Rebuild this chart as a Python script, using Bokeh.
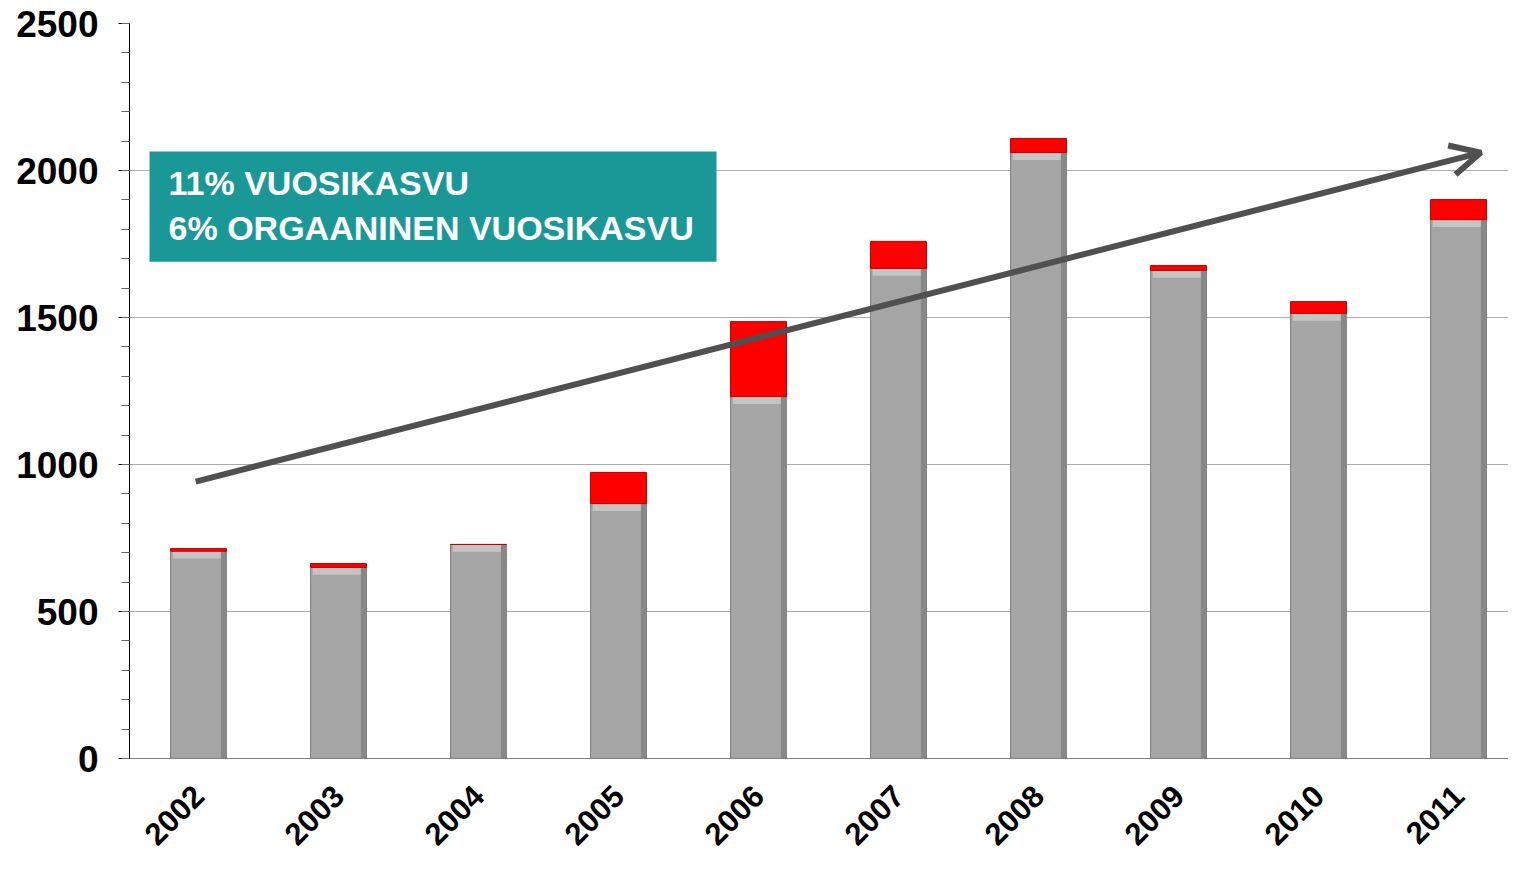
from bokeh.plotting import figure
from bokeh.models import (Range1d, FixedTicker, Arrow, OpenHead, BoxAnnotation,
                          Label, ColumnDataSource)
from bokeh.embed import file_html
from bokeh.resources import INLINE
import math

# ---- data ----
years = ["2002", "2003", "2004", "2005", "2006", "2007", "2008", "2009", "2010", "2011"]
organic = [705, 650, 728, 867, 1231, 1667, 2061, 1660, 1514, 1833]
acquired = [9, 13, 0, 106, 255, 92, 48, 17, 40, 68]
y_ticks = [0, 500, 1000, 1500, 2000, 2500]
trend_start = (-0.02, 942)
trend_end = (9.16, 2061)
box_lines = ["11% VUOSIKASVU", "6% ORGAANINEN VUOSIKASVU"]

xs = list(range(len(years)))
totals = [o + a for o, a in zip(organic, acquired)]

p = figure(width=1508, height=857, output_backend="svg", toolbar_location=None,
           x_range=Range1d(-0.493, 9.357), y_range=Range1d(0, 2500),
           min_border_left=129, min_border_right=0, min_border_top=23,
           min_border_bottom=99)
p.outline_line_color = None
p.background_fill_color = "white"

# grid
p.xgrid.grid_line_color = None
p.ygrid.grid_line_color = "#ABABAB"
p.ygrid.grid_line_width = 1
p.ygrid.ticker = FixedTicker(ticks=y_ticks)

# y axis
p.yaxis.ticker = FixedTicker(ticks=y_ticks, minor_ticks=list(range(0, 2501, 100)))
p.yaxis.axis_line_color = "black"
p.yaxis.axis_line_width = 1
p.yaxis.major_tick_line_color = "black"
p.yaxis.major_tick_out = 11
p.yaxis.major_tick_in = 0
p.yaxis.minor_tick_line_color = "#666666"
p.yaxis.minor_tick_out = 8
p.yaxis.minor_tick_in = 0
p.yaxis.major_label_text_font = "Liberation Sans"
p.yaxis.major_label_text_font_style = "bold"
p.yaxis.major_label_text_font_size = "37px"
p.yaxis.major_label_text_color = "black"
p.yaxis.major_label_standoff = 20

# x axis
p.xaxis.ticker = FixedTicker(ticks=xs)
p.xaxis.major_label_overrides = {i: y for i, y in zip(xs, years)}
p.xaxis.axis_line_color = "#808080"
p.xaxis.major_tick_line_color = None
p.xaxis.minor_tick_line_color = None
p.xaxis.major_label_orientation = math.pi / 4
p.xaxis.major_label_text_font = "Liberation Sans"
p.xaxis.major_label_text_font_style = "bold"
p.xaxis.major_label_text_font_size = "31px"
p.xaxis.major_label_text_color = "black"
p.xaxis.major_label_standoff = 26

# bars
src = ColumnDataSource(dict(x=xs, organic=organic, total=totals,
                            bevel=[max(o - 25, 0) for o in organic]))
W = 0.4
p.vbar(x="x", top="organic", bottom=0, width=W, source=src,
       fill_color="#A5A5A5", line_color="#7F7F7F", line_width=1)
# bevel highlight at top of grey bar
p.vbar(x="x", top="organic", bottom="bevel", width=W * 0.92, source=src,
       fill_color="#C4C4C4", line_color=None)
# darker right edge
p.vbar(x=[x + W * 0.45 for x in xs], top=organic, bottom=0, width=W * 0.1,
       fill_color="#888888", line_color=None)
# red acquired part
p.vbar(x="x", top="total", bottom="organic", width=W, source=src,
       fill_color="#FF0000", line_color="#C00000", line_width=1)

# teal text box
p.add_layout(BoxAnnotation(left=-0.35, right=3.7, bottom=1690, top=2065,
                           fill_color="#1A9898", fill_alpha=1.0, line_color=None))
for txt, yy in zip(box_lines, [1956, 1803]):
    p.add_layout(Label(x=-0.214, y=yy, text=txt, text_font="Liberation Sans",
                       text_font_style="bold", text_font_size="34px",
                       text_color="white", text_baseline="middle",
                       level="overlay"))

# trend arrow
p.add_layout(Arrow(end=OpenHead(size=30, line_width=6, line_color="#505050"),
                   x_start=trend_start[0], y_start=trend_start[1],
                   x_end=trend_end[0], y_end=trend_end[1],
                   line_width=6, line_color="#505050"))

open("out.html", "w").write(file_html(p, INLINE))
